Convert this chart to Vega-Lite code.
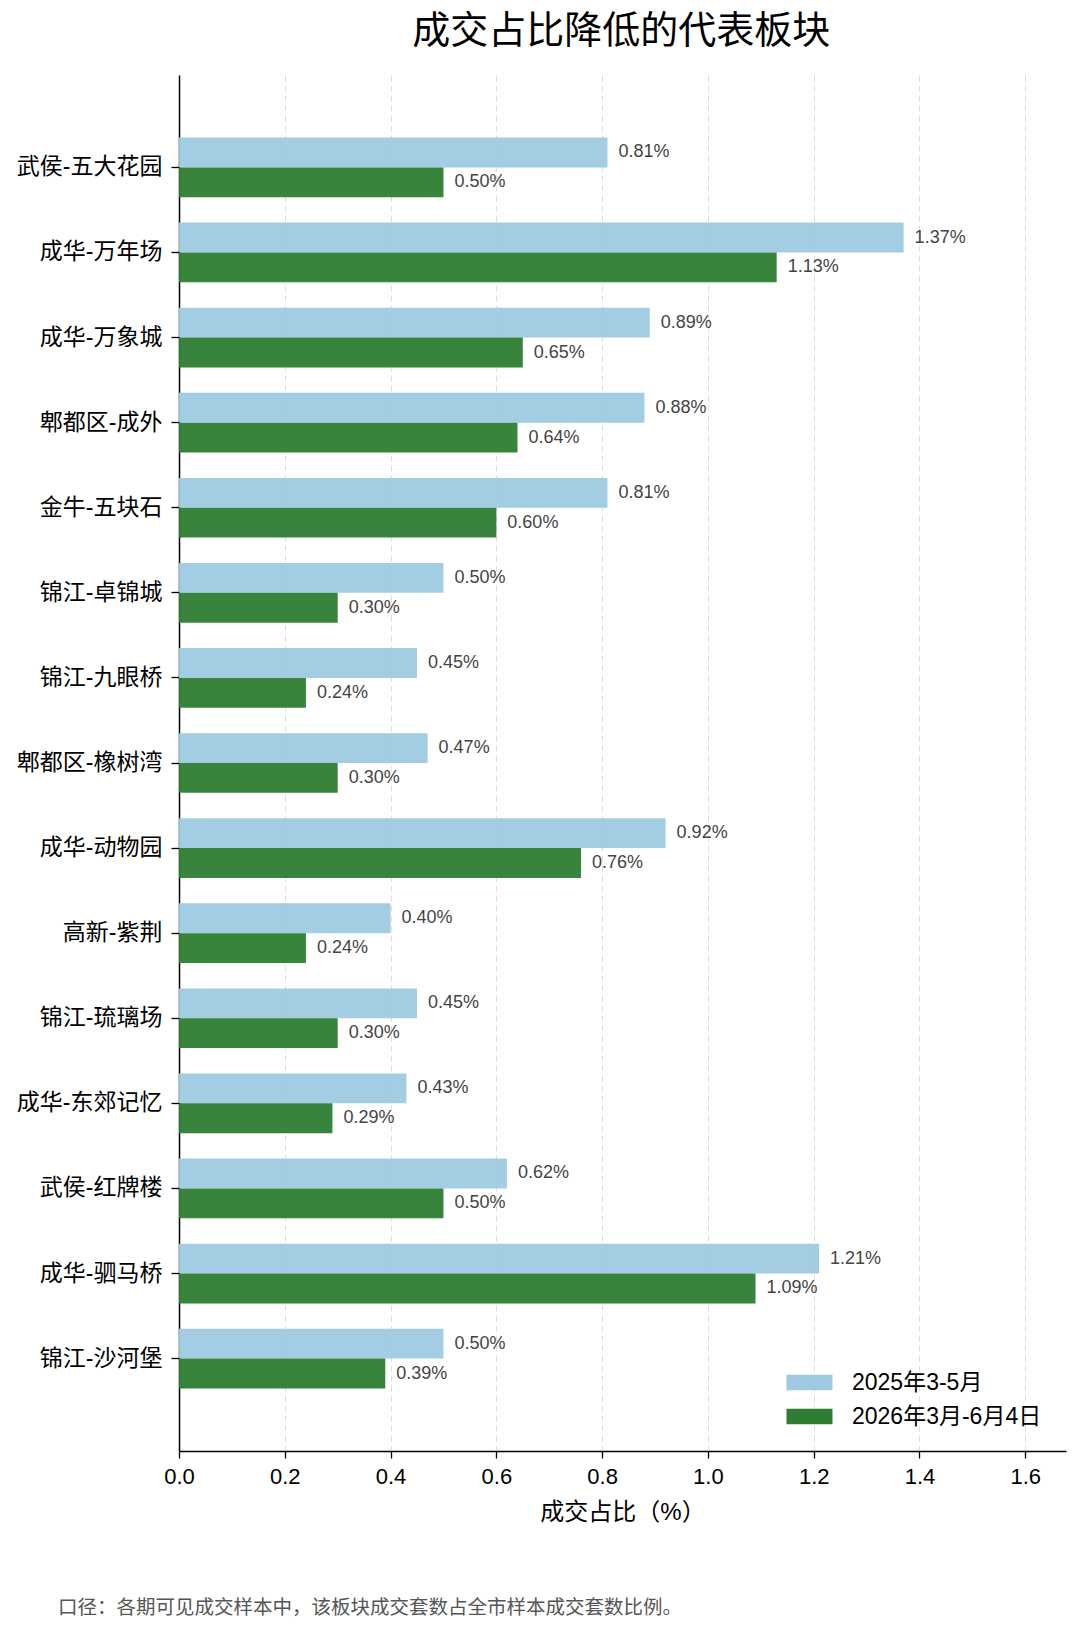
{
  "$schema": "https://vega.github.io/schema/vega-lite/v6.json",
  "autosize": {"type": "pad"},
  "padding": {"left": 16, "top": 13, "right": 14, "bottom": 10},
  "background": "white",
  "config": {
    "font": "Liberation Sans, Noto Sans CJK SC",
    "view": {"stroke": null}
  },
  "title": {
    "text": "成交占比降低的代表板块",
    "fontSize": 38,
    "fontWeight": "normal",
    "color": "black",
    "anchor": "middle",
    "dx": 80,
    "offset": 24
  },
  "vconcat": [
    {
      "title": {
        "text": "口径：各期可见成交样本中，该板块成交套数占全市样本成交套数比例。",
        "orient": "bottom",
        "anchor": "start",
        "frame": "group",
        "fontSize": 19.5,
        "fontWeight": "normal",
        "color": "#555555",
        "dx": -121,
        "offset": 75
      },
      "width": 887,
      "height": 1376,
      "data": {
        "values": [
          {"name": "武侯-五大花园", "period": "2025年3-5月", "value": 0.81},
          {"name": "武侯-五大花园", "period": "2026年3月-6月4日", "value": 0.50},
          {"name": "成华-万年场", "period": "2025年3-5月", "value": 1.37},
          {"name": "成华-万年场", "period": "2026年3月-6月4日", "value": 1.13},
          {"name": "成华-万象城", "period": "2025年3-5月", "value": 0.89},
          {"name": "成华-万象城", "period": "2026年3月-6月4日", "value": 0.65},
          {"name": "郫都区-成外", "period": "2025年3-5月", "value": 0.88},
          {"name": "郫都区-成外", "period": "2026年3月-6月4日", "value": 0.64},
          {"name": "金牛-五块石", "period": "2025年3-5月", "value": 0.81},
          {"name": "金牛-五块石", "period": "2026年3月-6月4日", "value": 0.60},
          {"name": "锦江-卓锦城", "period": "2025年3-5月", "value": 0.50},
          {"name": "锦江-卓锦城", "period": "2026年3月-6月4日", "value": 0.30},
          {"name": "锦江-九眼桥", "period": "2025年3-5月", "value": 0.45},
          {"name": "锦江-九眼桥", "period": "2026年3月-6月4日", "value": 0.24},
          {"name": "郫都区-橡树湾", "period": "2025年3-5月", "value": 0.47},
          {"name": "郫都区-橡树湾", "period": "2026年3月-6月4日", "value": 0.30},
          {"name": "成华-动物园", "period": "2025年3-5月", "value": 0.92},
          {"name": "成华-动物园", "period": "2026年3月-6月4日", "value": 0.76},
          {"name": "高新-紫荆", "period": "2025年3-5月", "value": 0.40},
          {"name": "高新-紫荆", "period": "2026年3月-6月4日", "value": 0.24},
          {"name": "锦江-琉璃场", "period": "2025年3-5月", "value": 0.45},
          {"name": "锦江-琉璃场", "period": "2026年3月-6月4日", "value": 0.30},
          {"name": "成华-东郊记忆", "period": "2025年3-5月", "value": 0.43},
          {"name": "成华-东郊记忆", "period": "2026年3月-6月4日", "value": 0.29},
          {"name": "武侯-红牌楼", "period": "2025年3-5月", "value": 0.62},
          {"name": "武侯-红牌楼", "period": "2026年3月-6月4日", "value": 0.50},
          {"name": "成华-驷马桥", "period": "2025年3-5月", "value": 1.21},
          {"name": "成华-驷马桥", "period": "2026年3月-6月4日", "value": 1.09},
          {"name": "锦江-沙河堡", "period": "2025年3-5月", "value": 0.50},
          {"name": "锦江-沙河堡", "period": "2026年3月-6月4日", "value": 0.39}
        ]
      },
      "transform": [
        {"calculate": "format(datum.value, '.2f') + '%'", "as": "label"}
      ],
      "encoding": {
        "y": {
          "field": "name",
          "type": "nominal",
          "sort": null,
          "title": null,
          "scale": {"paddingInner": 0.298, "paddingOuter": 0.735},
          "axis": {
            "labelFontSize": 23,
            "labelColor": "black",
            "labelPadding": 9,
            "labelLimit": 0,
            "tickColor": "black",
            "tickSize": 8,
            "tickWidth": 1.3,
            "domainColor": "black",
            "domainWidth": 1.5,
            "grid": false
          }
        },
        "yOffset": {
          "field": "period",
          "type": "nominal",
          "sort": ["2025年3-5月", "2026年3月-6月4日"],
          "scale": {"paddingInner": 0, "paddingOuter": 0}
        },
        "x": {
          "field": "value",
          "type": "quantitative",
          "title": "成交占比（%）",
          "scale": {"domain": [0, 1.677], "nice": false, "zero": true},
          "axis": {
            "values": [0, 0.2, 0.4, 0.6, 0.8, 1.0, 1.2, 1.4, 1.6],
            "format": ".1f",
            "labelFontSize": 22,
            "labelColor": "black",
            "labelPadding": 8,
            "labelFlush": false,
            "tickColor": "black",
            "tickSize": 7,
            "tickWidth": 1.3,
            "domainColor": "black",
            "domainWidth": 1.5,
            "grid": true,
            "gridColor": "#dddddd",
            "gridDash": [6, 4],
            "gridWidth": 1,
            "titleFontSize": 24,
            "titleFontWeight": "normal",
            "titleColor": "black",
            "titlePadding": 13
          }
        }
      },
      "layer": [
        {
          "mark": {"type": "bar", "opacity": 0.95},
          "encoding": {
            "color": {
              "field": "period",
              "type": "nominal",
              "title": null,
              "scale": {
                "domain": ["2025年3-5月", "2026年3月-6月4日"],
                "range": ["#9ecae1", "#2e7d32"]
              },
              "legend": {
                "orient": "none",
                "legendX": 615,
                "legendY": 1292,
                "padding": 0,
                "symbolType": "M-1.5,-0.5H1.5V0.5H-1.5Z",
                "symbolSize": 940,
                "symbolStrokeWidth": 0,
                "symbolOpacity": 1,
                "labelFontSize": 23,
                "labelColor": "black",
                "labelLimit": 0,
                "labelOffset": 27,
                "rowPadding": 6
              }
            }
          }
        },
        {
          "mark": {
            "type": "text",
            "align": "left",
            "baseline": "middle",
            "dx": 11,
            "fontSize": 18,
            "color": "#444444"
          },
          "encoding": {
            "text": {"field": "label"}
          }
        }
      ]
    }
  ]
}
